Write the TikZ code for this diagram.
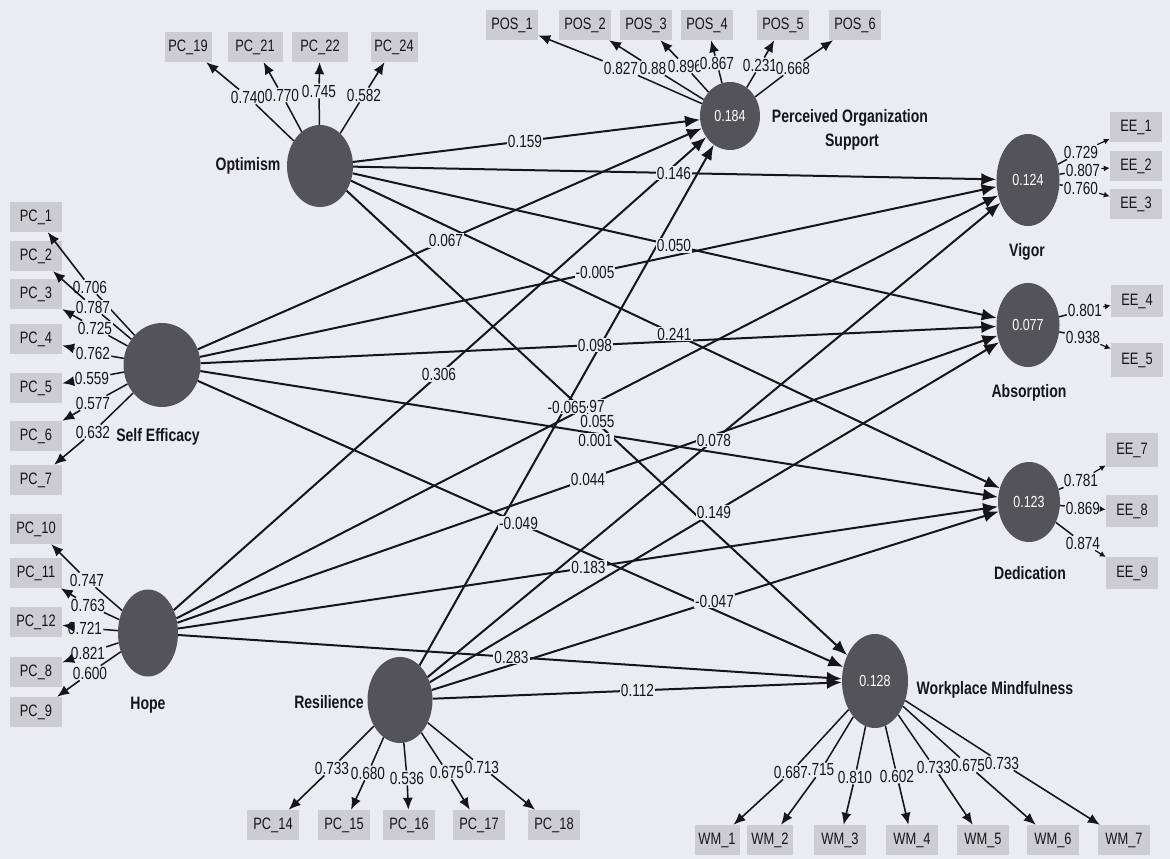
\documentclass[tikz,border=0pt]{standalone}
\usepackage{fontspec}
\setmainfont[FakeStretch=0.78]{Liberation Sans}
\usetikzlibrary{arrows.meta,calc,shapes.geometric}
\definecolor{bgc}{RGB}{235,236,241}
\definecolor{boxc}{RGB}{204,204,209}
\definecolor{ellc}{RGB}{84,84,88}
\definecolor{inkc}{RGB}{22,22,25}
\newcommand\fLbl{\fontsize{17.5}{19}\selectfont}
\newcommand\fNm{\fontsize{18}{20}\selectfont\bfseries}
\newcommand\fBx{\fontsize{16.5}{18}\selectfont}
\newcommand\fRs{\fontsize{16}{17}\selectfont}
\newcommand\mkload[6]{\node[ld] (#2) at (#3) {#4};\draw[ml] (#1) -- (#2);\draw[#6] (#2) -- (#5);}
\begin{document}
\begin{tikzpicture}[x=1pt,y=-1pt,
 lv/.style={ellipse,fill=ellc,inner sep=0pt,text=white,font=\fRs},
 ind/.style={rectangle,fill=boxc,minimum width=52pt,minimum height=30pt,inner sep=0pt,font=\fBx,text=inkc},
 ld/.style={fill=bgc,inner sep=1pt,font=\fLbl,text=inkc},
 pl/.style={fill=bgc,inner sep=1pt,font=\fLbl,text=inkc},
 nm/.style={font=\fNm,text=inkc,inner sep=0pt},
 pth/.style={line width=2pt,draw=inkc,-{Latex[length=15pt,width=12pt]}},
 ml/.style={line width=1.5pt,draw=inkc},
 ma/.style={line width=1.6pt,draw=inkc,-{Latex[length=12pt,width=10pt]}},
 mas/.style={line width=1.2pt,draw=inkc,-{Latex[length=6pt,width=6pt]}},
]
\fill[bgc] (0,0) rectangle (1170,859);
\useasboundingbox (0,0) rectangle (1170,859);

% latent variables
\node[lv,minimum width=66pt,minimum height=82pt] (O) at (320,166) {};
\node[lv,minimum width=60pt,minimum height=68pt] (POS) at (730,116) {0.184};
\node[lv,minimum width=63pt,minimum height=92pt] (V) at (1028,180) {0.124};
\node[lv,minimum width=63pt,minimum height=84pt] (A) at (1028,325) {0.077};
\node[lv,minimum width=62pt,minimum height=80pt] (D) at (1029,502) {0.123};
\node[lv,minimum width=77pt,minimum height=84pt] (SE) at (162,365) {};
\node[lv,minimum width=60pt,minimum height=87pt] (H) at (148,633) {};
\node[lv,minimum width=65pt,minimum height=86pt] (R) at (400,700) {};
\node[lv,minimum width=66pt,minimum height=94pt] (WM) at (875,681) {0.128};

% names
\node[nm] (nO) at (248,166) {Optimism};
\node[nm] (nSE) at (158,437) {Self Efficacy};
\node[nm] (nH) at (148,705) {Hope};
\node[nm] (nR) at (329,702) {Resilience};
\node[nm] (nPOS1) at (850,118) {Perceived Organization};
\node[nm] (nPOS2) at (852,142) {Support};
\node[nm] (nV) at (1027,252) {Vigor};
\node[nm] (nA) at (1029,393) {Absorption};
\node[nm] (nD) at (1030,573) {Dedication};
\node[nm] (nWM) at (995,690) {Workplace Mindfulness};

% indicators
\node[ind,minimum width=47pt] (pc19) at (188,47) {PC\_19};
\node[ind,minimum width=55pt] (pc21) at (255,47) {PC\_21};
\node[ind,minimum width=56pt] (pc22) at (320,47) {PC\_22};
\node[ind,minimum width=47pt] (pc24) at (394,47) {PC\_24};

\begin{scope}[every node/.append style={minimum width=56pt,minimum height=34pt}]
\node[ind] (pos1) at (512,25) {POS\_1};
\node[ind] (pos2) at (585,25) {POS\_2};
\node[ind] (pos3) at (646,25) {POS\_3};
\node[ind] (pos4) at (707,25) {POS\_4};
\node[ind] (pos5) at (783,25) {POS\_5};
\node[ind] (pos6) at (855,25) {POS\_6};
\end{scope}

\begin{scope}[every node/.append style={minimum width=62pt,minimum height=30pt}]
\node[ind] (ee1) at (1136,127) {EE\_1};
\node[ind] (ee2) at (1136,166) {EE\_2};
\node[ind] (ee3) at (1136,204) {EE\_3};
\node[ind,minimum height=32pt] (ee4) at (1137,301) {EE\_4};
\node[ind,minimum height=34pt] (ee5) at (1137,360) {EE\_5};
\node[ind,minimum height=34pt] (ee7) at (1132,450) {EE\_7};
\node[ind,minimum height=32pt] (ee8) at (1132,511) {EE\_8};
\node[ind,minimum height=32pt] (ee9) at (1132,573) {EE\_9};
\end{scope}

\begin{scope}[every node/.append style={minimum width=48pt,minimum height=32pt}]
\node[ind] (pc1) at (36,217) {PC\_1};
\node[ind] (pc2) at (36,256) {PC\_2};
\node[ind] (pc3) at (36,294) {PC\_3};
\node[ind] (pc4) at (36,339) {PC\_4};
\node[ind] (pc5) at (36,388) {PC\_5};
\node[ind] (pc6) at (36,436) {PC\_6};
\node[ind] (pc7) at (36,480) {PC\_7};
\node[ind] (pc10) at (36,529) {PC\_10};
\node[ind] (pc11) at (36,573) {PC\_11};
\node[ind] (pc12) at (36,622) {PC\_12};
\node[ind] (pc8) at (36,672) {PC\_8};
\node[ind] (pc9) at (36,712) {PC\_9};
\end{scope}

\begin{scope}[every node/.append style={minimum width=58pt,minimum height=30pt}]
\node[ind] (pc14) at (273,825) {PC\_14};
\node[ind] (pc15) at (344,825) {PC\_15};
\node[ind] (pc16) at (409,825) {PC\_16};
\node[ind] (pc17) at (479,825) {PC\_17};
\node[ind] (pc18) at (554,825) {PC\_18};
\end{scope}

\begin{scope}[every node/.append style={minimum width=60pt,minimum height=34pt}]
\node[ind,minimum width=45pt] (wm1) at (717,840) {WM\_1};
\node[ind,minimum width=46pt] (wm2) at (770,840) {WM\_2};
\node[ind] (wm3) at (840,840) {WM\_3};
\node[ind] (wm4) at (912,840) {WM\_4};
\node[ind] (wm5) at (983,840) {WM\_5};
\node[ind] (wm6) at (1053,840) {WM\_6};
\node[ind] (wm7) at (1124,840) {WM\_7};
\end{scope}

% structural paths
\foreach \s in {O,SE,H,R}{
  \foreach \t in {POS,V,A,D,WM}{
    \draw[pth] (\s) -- (\t);
  }
}
% path coefficients
\node[pl] (cOPOS) at ($(O)!0.5!(POS)$) {0.159};
\node[pl] (cOV) at ($(O)!0.5!(V)$) {0.146};
\node[pl] (cOA) at ($(O)!0.5!(A)$) {0.050};
\node[pl] (cOD) at ($(O)!0.5!(D)$) {0.241};
\node[pl] (cSEPOS) at ($(SE)!0.5!(POS)$) {0.067};
\node[pl] (cSEV) at ($(SE)!0.5!(V)$) {-0.005};
\node[pl] (cSEA) at ($(SE)!0.5!(A)$) {0.098};
\node[pl] (cSED) at ($(SE)!0.5!(D)+(0,7)$) {0.001};
\node[pl] (cOWM) at ($(O)!0.5!(WM)+(0,-2)$) {0.055};
\node[pl] (cSEWM) at ($(SE)!0.5!(WM)$) {-0.049};
\node[pl] (cHPOS) at ($(H)!0.5!(POS)$) {0.306};
\node[pl] (cHV) at (597,406) {97};
\node[pl] (cHA) at ($(H)!0.5!(A)$) {0.044};
\node[pl] (cHD) at ($(H)!0.5!(D)$) {0.183};
\node[pl] (cHWM) at ($(H)!0.5!(WM)$) {0.283};
\node[pl] (cRPOS) at ($(R)!0.5!(POS)+(2,-1)$) {-0.065};
\node[pl] (cRV) at ($(R)!0.5!(V)$) {0.078};
\node[pl] (cRA) at ($(R)!0.5!(A)$) {0.149};
\node[pl] (cRD) at ($(R)!0.5!(D)$) {-0.047};
\node[pl] (cRWM) at ($(R)!0.5!(WM)$) {0.112};

% loadings: Optimism
\mkload{O}{lo1}{248,97}{0.740}{pc19}{ma}
\mkload{O}{lo2}{282,95}{0.770}{pc21}{ma}
\mkload{O}{lo3}{319,91}{0.745}{pc22}{ma}
\mkload{O}{lo4}{364,95}{0.582}{pc24}{ma}
% POS
\mkload{POS}{lp1}{621,68}{0.827}{pos1}{ma}
\mkload{POS}{lp2}{653,68}{0.88}{pos2}{ma}
\mkload{POS}{lp3}{685,66}{0.896}{pos3}{ma}
\mkload{POS}{lp4}{717,63}{0.867}{pos4}{ma}
\mkload{POS}{lp5}{760,65}{0.231}{pos5}{ma}
\mkload{POS}{lp6}{793,68}{0.668}{pos6}{ma}
% Vigor, Absorption, Dedication
\mkload{V}{lv1}{1081,152}{0.729}{ee1}{mas}
\mkload{V}{lv2}{1083,170}{0.807}{ee2}{mas}
\mkload{V}{lv3}{1081,188}{0.760}{ee3}{mas}
\mkload{A}{la1}{1085,310}{0.801}{ee4}{mas}
\mkload{A}{la2}{1083,337}{0.938}{ee5}{mas}
\mkload{D}{ld1}{1081,480}{0.781}{ee7}{mas}
\mkload{D}{ld2}{1083,508}{0.869}{ee8}{mas}
\mkload{D}{ld3}{1083,543}{0.874}{ee9}{mas}
% Self Efficacy
\mkload{SE}{ls1}{90,287}{0.706}{pc1}{ma}
\mkload{SE}{ls2}{93,307}{0.787}{pc2}{ma}
\mkload{SE}{ls3}{95,328}{0.725}{pc3}{ma}
\mkload{SE}{ls4}{93,353}{0.762}{pc4}{ma}
\mkload{SE}{ls5}{92,378}{0.559}{pc5}{ma}
\mkload{SE}{ls6}{93,403}{0.577}{pc6}{ma}
\mkload{SE}{ls7}{93,432}{0.632}{pc7}{ma}
% Hope
\mkload{H}{lh1}{87,580}{0.747}{pc10}{ma}
\mkload{H}{lh2}{88,605}{0.763}{pc11}{ma}
\mkload{H}{lh3}{85,628}{0.721}{pc12}{ma}
\mkload{H}{lh4}{88,653}{0.821}{pc8}{ma}
\mkload{H}{lh5}{90,673}{0.600}{pc9}{ma}
% Resilience
\mkload{R}{lr1}{332,768}{0.733}{pc14}{ma}
\mkload{R}{lr2}{368,773}{0.680}{pc15}{ma}
\mkload{R}{lr3}{407,778}{0.536}{pc16}{ma}
\mkload{R}{lr4}{447,772}{0.675}{pc17}{ma}
\mkload{R}{lr5}{482,767}{0.713}{pc18}{ma}
% Workplace Mindfulness
\mkload{WM}{lw1}{791,772}{0.687}{wm1}{ma}
\mkload{WM}{lw2}{821,770}{.715}{wm2}{ma}
\mkload{WM}{lw3}{855,777}{0.810}{wm3}{ma}
\mkload{WM}{lw4}{897,776}{0.602}{wm4}{ma}
\mkload{WM}{lw5}{934,767}{0.733}{wm5}{ma}
\mkload{WM}{lw6}{968,765}{0.675}{wm6}{ma}
\mkload{WM}{lw7}{1002,763}{0.733}{wm7}{ma}
\end{tikzpicture}
\end{document}
